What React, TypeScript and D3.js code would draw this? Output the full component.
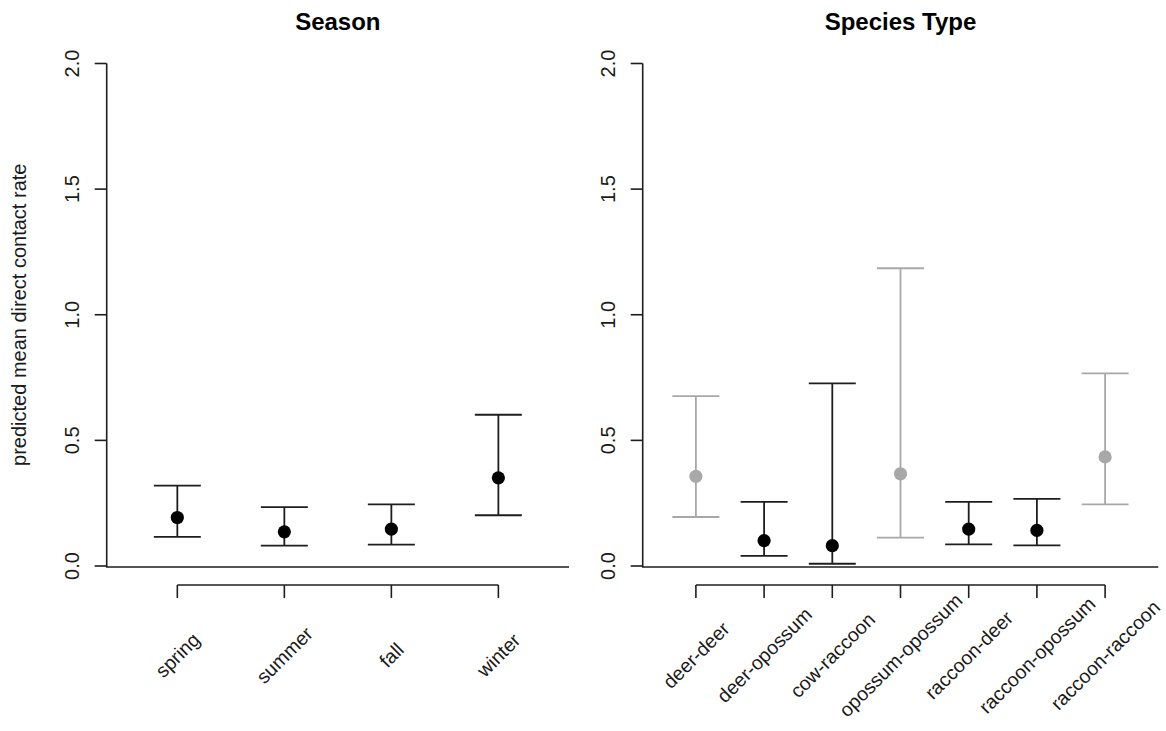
import React from "react";
import * as d3 from "d3";

const seasonCats = ["spring", "summer", "fall", "winter"];
const seasonMean = [0.193, 0.136, 0.147, 0.351];
const seasonLower = [0.116, 0.081, 0.085, 0.202];
const seasonUpper = [0.32, 0.234, 0.245, 0.602];
const seasonFlag = [0, 0, 0, 0];

const speciesCats = [
  "deer-deer",
  "deer-opossum",
  "cow-raccoon",
  "opossum-opossum",
  "raccoon-deer",
  "raccoon-opossum",
  "raccoon-raccoon",
];
const speciesMean = [0.357, 0.101, 0.081, 0.367, 0.147, 0.142, 0.434];
const speciesLower = [0.195, 0.04, 0.009, 0.113, 0.086, 0.082, 0.245];
const speciesUpper = [0.676, 0.255, 0.727, 1.185, 0.255, 0.267, 0.767];
const speciesFlag = [1, 0, 0, 1, 0, 0, 1];

const yTicks = [0, 0.5, 1, 1.5, 2];
const yTitle = "predicted mean direct contact rate";

const FONT = "'Liberation Sans', Arial, Helvetica, sans-serif";
const DARK = "#1e1e1e";
const GRAY = "#a8a8a8";

type PanelProps = {
  title: string;
  cats: string[];
  mean: number[];
  lower: number[];
  upper: number[];
  flag: number[];
  left: number;
  right: number;
  showYTitle: boolean;
};

function Panel({ title, cats, mean, lower, upper, flag, left, right, showYTitle }: PanelProps) {
  const n = cats.length;
  const pad = 0.04 * n;
  const x = d3.scaleLinear().domain([0.5 - pad, n + 0.5 + pad]).range([left, right]);
  const y = d3.scaleLinear().domain([0, 2]).range([566, 63.5]);
  const bottom = y(0) + 1;
  const axisY = 585;
  const capHalf = 23.5;
  const idx = d3.range(n);
  return (
    <g>
      <text
        x={(left + right) / 2}
        y={30}
        textAnchor="middle"
        fontFamily={FONT}
        fontWeight="bold"
        fontSize={24}
        fill="#000"
      >
        {title}
      </text>
      <path
        d={`M${left},${y(2)}V${bottom}H${right}`}
        fill="none"
        stroke={DARK}
        strokeWidth={1.6}
      />
      {yTicks.map((t) => (
        <g key={t}>
          <line x1={left - 12} x2={left} y1={y(t)} y2={y(t)} stroke={DARK} strokeWidth={1.6} />
          <text
            transform={`translate(${left - 27.5},${y(t)}) rotate(-90)`}
            textAnchor="middle"
            fontFamily={FONT}
            fontSize={20}
            fill="#1a1a1a"
          >
            {d3.format(".1f")(t)}
          </text>
        </g>
      ))}
      {showYTitle && (
        <text
          transform={`translate(26,${(y(0) + y(2)) / 2}) rotate(-90)`}
          textAnchor="middle"
          fontFamily={FONT}
          fontSize={20}
          fill="#1a1a1a"
        >
          {yTitle}
        </text>
      )}
      <line x1={x(1)} x2={x(n)} y1={axisY} y2={axisY} stroke={DARK} strokeWidth={1.6} />
      {idx.map((i) => (
        <g key={cats[i]}>
          <line x1={x(i + 1)} x2={x(i + 1)} y1={axisY} y2={axisY + 13} stroke={DARK} strokeWidth={1.6} />
          <text
            transform={`translate(${x(i + 1)},${655}) rotate(-45)`}
            textAnchor="middle"
            dominantBaseline="central"
            fontFamily={FONT}
            fontSize={19.5}
            fill="#1a1a1a"
          >
            {cats[i]}
          </text>
        </g>
      ))}
      {idx.map((i) => {
        const c = flag[i] ? GRAY : DARK;
        const cx = x(i + 1);
        return (
          <g key={"e" + i}>
            <line x1={cx} x2={cx} y1={y(lower[i])} y2={y(upper[i])} stroke={c} strokeWidth={1.8} />
            <line x1={cx - capHalf} x2={cx + capHalf} y1={y(upper[i])} y2={y(upper[i])} stroke={c} strokeWidth={1.8} />
            <line x1={cx - capHalf} x2={cx + capHalf} y1={y(lower[i])} y2={y(lower[i])} stroke={c} strokeWidth={1.8} />
            <circle cx={cx} cy={y(mean[i])} r={6.6} fill={flag[i] ? GRAY : "#000"} />
          </g>
        );
      })}
    </g>
  );
}

export default function App() {
  return (
    <svg
      width={1166}
      height={731}
      style={{ position: "absolute", left: 0, top: 0, background: "#fff" }}
    >
      <rect width={1166} height={731} fill="#fff" />
      <Panel
        title="Season"
        cats={seasonCats}
        mean={seasonMean}
        lower={seasonLower}
        upper={seasonUpper}
        flag={seasonFlag}
        left={106.7}
        right={569}
        showYTitle={true}
      />
      <Panel
        title="Species Type"
        cats={speciesCats}
        mean={speciesMean}
        lower={speciesLower}
        upper={speciesUpper}
        flag={speciesFlag}
        left={642.7}
        right={1158.3}
        showYTitle={false}
      />
    </svg>
  );
}
